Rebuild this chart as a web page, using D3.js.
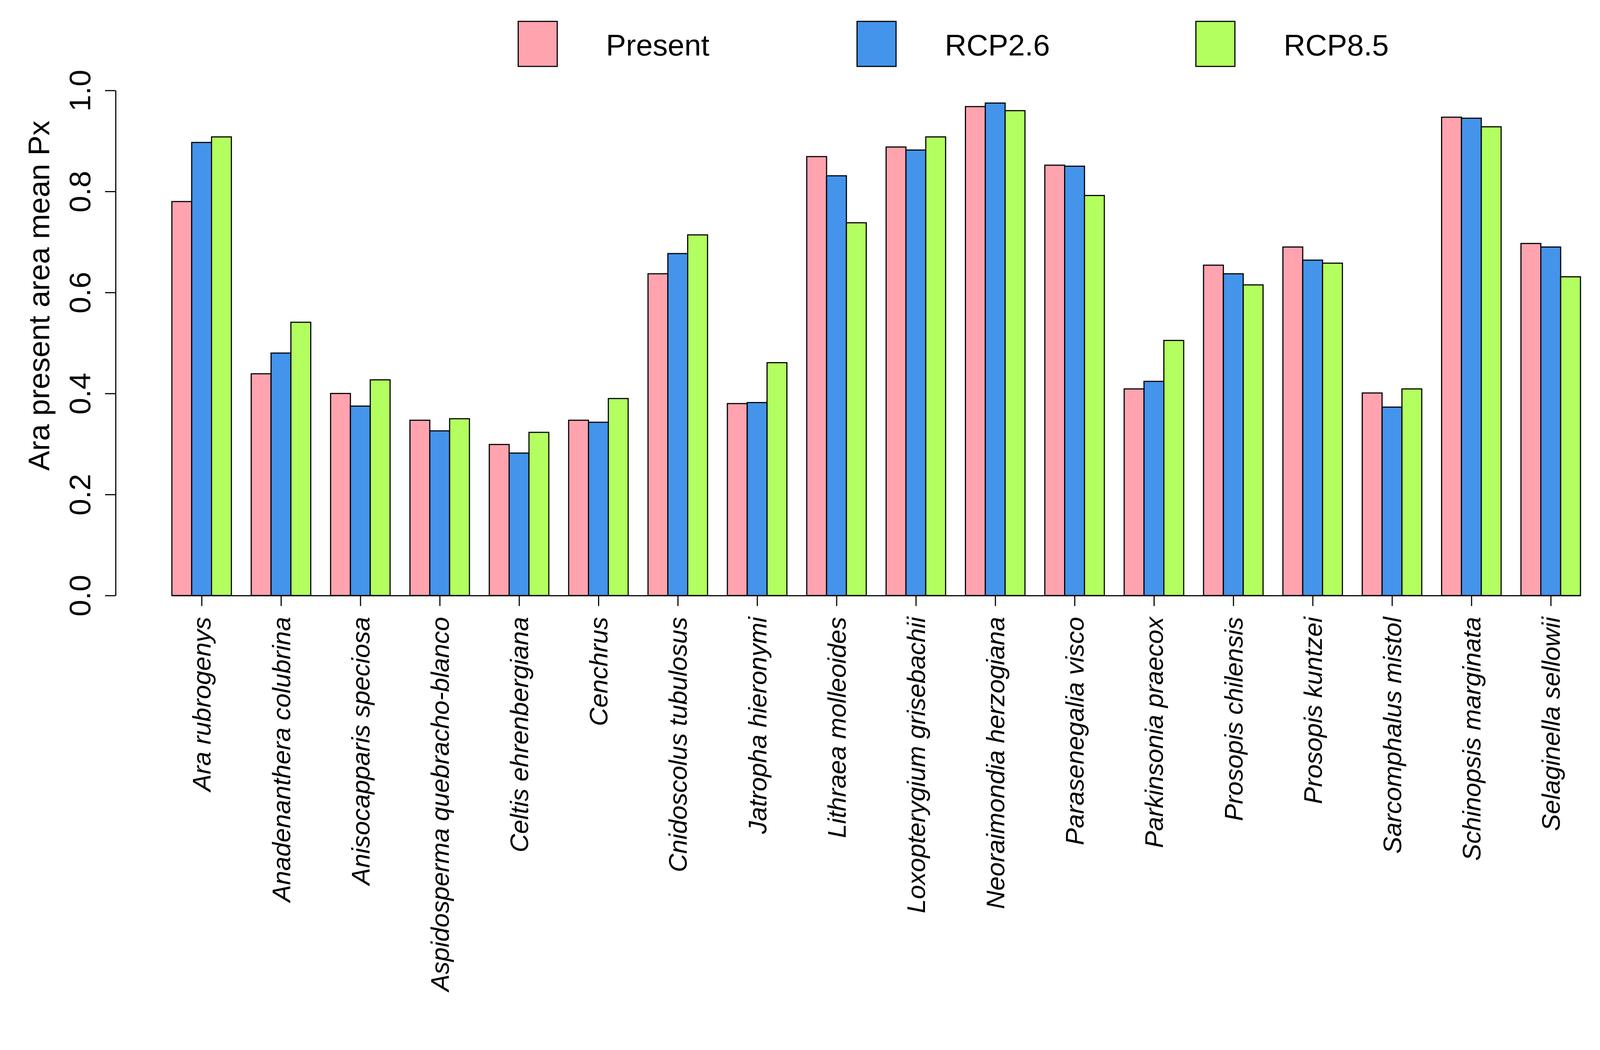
<!DOCTYPE html>
<html>
<head>
<meta charset="utf-8">
<script src="https://cdn.jsdelivr.net/npm/d3@7"></script>
<style>
  html, body { margin: 0; padding: 0; width: 100%; height: 100%; overflow: hidden; background: #ffffff; }
  #chartContainer { width: 100%; height: 100%; }
  svg { display: block; }
  text { font-family: "Liberation Sans", Arial, sans-serif; fill: #000; }
</style>
</head>
<body>
<div id="chartContainer"></div>
<script>
  var WIDTH = 4264;
  var HEIGHT = 2688;

  // species on the x axis
  var species = ["Ara rubrogenys", "Anadenanthera colubrina", "Anisocapparis speciosa",
    "Aspidosperma quebracho-blanco", "Celtis ehrenbergiana", "Cenchrus",
    "Cnidoscolus tubulosus", "Jatropha hieronymi", "Lithraea molleoides",
    "Loxopterygium grisebachii", "Neoraimondia herzogiana", "Parasenegalia visco",
    "Parkinsonia praecox", "Prosopis chilensis", "Prosopis kuntzei",
    "Sarcomphalus mistol", "Schinopsis marginata", "Selaginella sellowii"];

  var scenarios = ["Present", "RCP2.6", "RCP8.5"];
  var colors = ["#FFA3AF", "#4394EA", "#B3FF5F"];

  var present = [0.780, 0.439, 0.400, 0.347, 0.299, 0.347, 0.637, 0.380, 0.869,
    0.888, 0.968, 0.852, 0.409, 0.654, 0.690, 0.401, 0.947, 0.697];
  var rcp26 = [0.897, 0.480, 0.375, 0.326, 0.282, 0.343, 0.677, 0.382, 0.831,
    0.882, 0.975, 0.850, 0.424, 0.637, 0.664, 0.373, 0.945, 0.690];
  var rcp85 = [0.908, 0.541, 0.427, 0.350, 0.323, 0.390, 0.714, 0.461, 0.738,
    0.908, 0.960, 0.792, 0.505, 0.615, 0.658, 0.409, 0.928, 0.631];

  var yTicks = [0, 0.2, 0.4, 0.6, 0.8, 1.0];
  var yTitle = "Ara present area mean Px";

  var series = [present, rcp26, rcp85];

  // draw in 4264x2688 units, fit to the window width and keep it at the top
  var svg = d3.select("#chartContainer").append("svg")
      .attr("viewBox", "0 0 " + WIDTH + " " + HEIGHT)
      .attr("preserveAspectRatio", "xMidYMin meet")
      .attr("width", "100%")
      .attr("height", "100%");

  svg.append("rect").attr("width", WIDTH).attr("height", HEIGHT).attr("fill", "#fff");

  // barplot units: each group is 3 bars + 1 space, first bar starts at unit 1
  var x = d3.scaleLinear().domain([1, 72]).range([458, 4212]);
  var y = d3.scaleLinear().domain([0, 1]).range([1587, 241]);

  // bars
  series.forEach(function (vals, j) {
    svg.append("g").selectAll("rect")
      .data(vals)
      .enter()
      .append("rect")
      .attr("x", function (d, i) { return x(i * 4 + 1 + j); })
      .attr("y", function (d) { return y(d); })
      .attr("width", x(2) - x(1))
      .attr("height", function (d) { return y(0) - y(d); })
      .attr("fill", colors[j])
      .attr("stroke", "#000")
      .attr("stroke-width", 3);
  });

  // x axis with species names
  var xAxis = d3.axisBottom(x)
      .tickValues(species.map(function (d, i) { return i * 4 + 2.5; }))
      .tickFormat(function (d, i) { return species[i]; })
      .tickSize(28)
      .tickSizeOuter(0);

  var gx = svg.append("g")
      .attr("transform", "translate(0," + y(0) + ")")
      .call(xAxis);
  gx.selectAll("line,path").attr("stroke", "#000").attr("stroke-width", 3);
  gx.selectAll("text")
      .attr("x", 0).attr("y", 0).attr("dy", "0.35em")
      .attr("text-anchor", "end")
      .attr("transform", "translate(0,57) rotate(-90)")
      .style("font-family", "'Liberation Sans', Arial, sans-serif")
      .style("font-style", "italic")
      .style("font-size", "68px")
      .attr("fill", "#000");

  // y axis
  var yAxis = d3.axisLeft(y)
      .tickValues(yTicks)
      .tickFormat(d3.format(".1f"))
      .tickSize(28)
      .tickSizeOuter(0);

  var gy = svg.append("g")
      .attr("transform", "translate(308,0)")
      .call(yAxis);
  gy.selectAll("line,path").attr("stroke", "#000").attr("stroke-width", 3);
  gy.selectAll("text")
      .attr("x", 0).attr("y", 0).attr("dy", 0)
      .attr("text-anchor", "middle")
      .attr("transform", "translate(-68,0) rotate(-90)")
      .style("font-family", "'Liberation Sans', Arial, sans-serif")
      .style("font-size", "80px")
      .attr("fill", "#000");

  // y title
  svg.append("text")
      .attr("transform", "translate(131,788) rotate(-90)")
      .attr("text-anchor", "middle")
      .style("font-size", "80px")
      .text(yTitle);

  // legend across the top
  var legend = svg.append("g").selectAll("g")
      .data(scenarios)
      .enter()
      .append("g")
      .attr("transform", function (d, i) { return "translate(" + (1381 + i * 903) + ",0)"; });

  legend.append("rect")
      .attr("x", 0).attr("y", 57)
      .attr("width", 104).attr("height", 120)
      .attr("fill", function (d, i) { return colors[i]; })
      .attr("stroke", "#000")
      .attr("stroke-width", 3);

  legend.append("text")
      .attr("x", 234).attr("y", 148)
      .style("font-size", "80px")
      .text(function (d) { return d; });
</script>
</body>
</html>
